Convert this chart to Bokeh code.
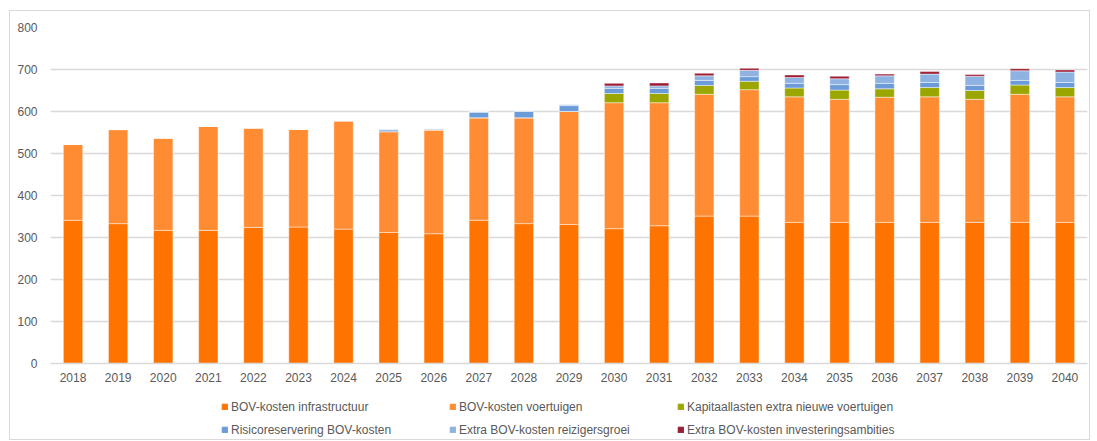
from bokeh.plotting import figure
from bokeh.layouts import column
from bokeh.models import ColumnDataSource, FactorRange, Range1d, Legend, LegendItem, FixedTicker
from bokeh.embed import file_html
from bokeh.resources import INLINE

years = ["2018", "2019", "2020", "2021", "2022", "2023", "2024", "2025", "2026", "2027",
         "2028", "2029", "2030", "2031", "2032", "2033", "2034", "2035", "2036", "2037",
         "2038", "2039", "2040"]

infra = [341, 333, 317, 317, 324, 325, 320, 312, 309, 341, 333, 331,
         321, 328, 351, 351, 336, 336, 336, 336, 336, 336, 336]
voertuigen = [181, 224, 220, 248, 237, 233, 258, 240, 247, 244, 252, 269,
              300, 293, 290, 301, 299, 293, 298, 299, 293, 305, 299]
kapitaal = [0, 0, 0, 0, 0, 0, 0, 0, 0, 0, 0, 0,
            22, 22, 21, 20, 21, 22, 20, 22, 21, 22, 22]
risico = [0, 0, 0, 0, 0, 0, 0, 4, 2, 13, 15, 14,
          12, 12, 12, 11, 11, 13, 13, 12, 12, 11, 12]
reiziger = [0, 0, 0, 0, 0, 0, 0, 2, 1, 2, 2, 3,
            6, 6, 11, 15, 14, 14, 18, 20, 22, 23, 25]
invest = [0, 0, 0, 0, 0, 0, 0, 0, 0, 0, 0, 0,
          6, 7, 6, 5, 6, 6, 4, 6, 4, 5, 5]

series_keys = ["infra", "voertuigen", "kapitaal", "risico", "reiziger", "invest"]
series_labels = ["BOV-kosten infrastructuur", "BOV-kosten voertuigen",
                 "Kapitaallasten extra nieuwe voertuigen", "Risicoreservering BOV-kosten",
                 "Extra BOV-kosten reizigersgroei", "Extra BOV-kosten investeringsambities"]
series_colors = ["#FF7300", "#FF8C33", "#9BA600", "#6B9BD8", "#8EB2E2", "#9C1C33"]
y_ticks = [0, 100, 200, 300, 400, 500, 600, 700, 800]

source = ColumnDataSource(data=dict(year=years, infra=infra, voertuigen=voertuigen,
                                    kapitaal=kapitaal, risico=risico,
                                    reiziger=reiziger, invest=invest))

FONT = "Liberation Sans"
TXT = "#595959"
NAN = float("nan")

# main chart
p = figure(x_range=FactorRange(*years, range_padding=0), y_range=Range1d(0, 800),
           width=1079, height=380, frame_width=1037, frame_height=336,
           min_border_left=40, min_border_right=2, min_border_top=16, min_border_bottom=28,
           output_backend="svg", toolbar_location=None)
p.x_range.range_padding = 0
p.outline_line_color = None
p.background_fill_color = "white"
p.border_fill_color = "white"

renderers = p.vbar_stack(series_keys, x="year", width=0.43, color=series_colors,
                         line_color="white", line_alpha=0.45, line_width=1, source=source)

p.xgrid.grid_line_color = None
p.ygrid.grid_line_color = "#d9d9d9"
p.ygrid.grid_line_width = 1.3
p.yaxis.ticker = FixedTicker(ticks=y_ticks)
p.yaxis.axis_line_color = None
p.yaxis.major_tick_line_color = None
p.yaxis.minor_tick_line_color = None
p.yaxis.major_label_standoff = 7
p.xaxis.axis_line_color = "#d9d9d9"
p.xaxis.axis_line_width = 1.3
p.xaxis.major_tick_line_color = None
p.xaxis.minor_tick_line_color = None
p.xaxis.major_label_standoff = 3
for ax in (p.xaxis[0], p.yaxis[0]):
    ax.major_label_text_font = FONT
    ax.major_label_text_font_size = "12px"
    ax.major_label_text_color = TXT

# legend strip below the chart (placeholder glyphs are NaN, so only the legend shows)
pl = figure(width=1079, height=48, x_range=Range1d(0, 1), y_range=Range1d(0, 1),
            min_border_left=0, min_border_right=0, min_border_top=0, min_border_bottom=0,
            x_axis_type=None, y_axis_type=None, output_backend="svg", toolbar_location=None)
pl.grid.visible = False
pl.outline_line_color = None
pl.background_fill_color = "white"
pl.border_fill_color = "white"

items = []
for lab, col in zip(series_labels, series_colors):
    r = pl.vbar(x=[NAN], top=[NAN], width=0.5, fill_color=col, line_color=col)
    items.append(LegendItem(label=lab, renderers=[r]))

lg = Legend(items=items, location=(171, -2), orientation="horizontal", ncols=3,
            glyph_width=7, glyph_height=7, label_standoff=3, label_height=23, label_width=218,
            spacing=0, padding=0, margin=0,
            label_text_font=FONT, label_text_font_size="12px", label_text_color=TXT,
            border_line_color=None, background_fill_alpha=0)
pl.add_layout(lg, "center")

layout = column(p, pl, spacing=0)
layout.margin = (10, 0, 0, 9)
layout.styles = {"border": "1px solid #d9d9d9"}

open("out.html", "w").write(file_html(layout, INLINE))
